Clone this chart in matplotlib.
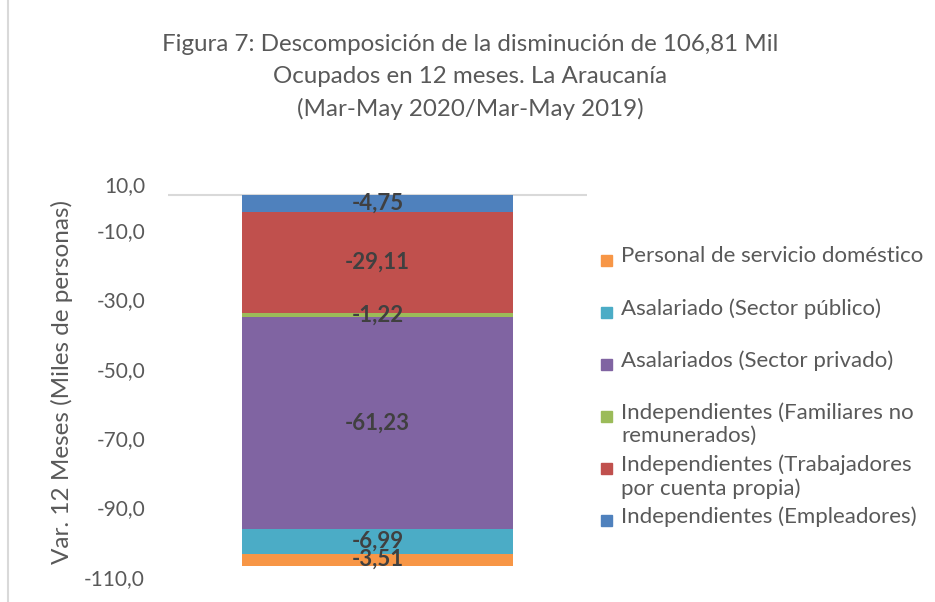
import matplotlib
matplotlib.use("Agg")
import matplotlib.pyplot as plt
import matplotlib.transforms as mtransforms
from matplotlib.patches import Rectangle

# data: stacked from 0 downward (top segment first)
categories = ["Independientes (Empleadores)",
              "Independientes (Trabajadores\npor cuenta propia)",
              "Independientes (Familiares no\nremunerados)",
              "Asalariados (Sector privado)",
              "Asalariado (Sector público)",
              "Personal de servicio doméstico"]
values = [-4.75, -29.11, -1.22, -61.23, -6.99, -3.51]
colors = ["#4F81BD", "#C0504D", "#9BBB59", "#8064A2", "#4BACC6", "#F79646"]
yticks = [10, -10, -30, -50, -70, -90, -110]

plt.rcParams['font.family'] = ['Lato', 'DejaVu Sans']
gray = "#595959"

fig = plt.figure(figsize=(9.35, 6.02), dpi=100)
ax = fig.add_axes([168 / 935, 1 - 576.8 / 602, 419 / 935, 416 / 602])

bottom = 0.0
for lab, v, c in zip(categories, values, colors):
    ax.bar(0, v, bottom=bottom, width=0.647, color=c, zorder=2)
    ax.text(0, bottom + v / 2, f"{v:.2f}".replace(".", ","), ha="center",
            va="center", fontsize=16, fontweight="bold", color="#404040",
            zorder=3)
    bottom += v

ax.set_xlim(-0.5, 0.5)
ax.set_ylim(-110, 10)
ax.set_yticks(yticks)
ax.set_yticklabels([f"{t:.1f}".replace(".", ",") for t in yticks])
ax.set_xticks([])
ax.tick_params(axis="y", length=0, pad=16.5, labelsize=15, labelcolor=gray)
for s in ax.spines.values():
    s.set_visible(False)
ax.axhline(0, color="#D9D9D9", lw=1.5, zorder=1)

# top tick label sits lower in the original
off = mtransforms.ScaledTranslation(0, -0.23, fig.dpi_scale_trans)
lbl = ax.get_yticklabels()[0]
lbl.set_transform(lbl.get_transform() + off)

fig.text(62 / 935, 1 - 382 / 602, "Var. 12 Meses (Miles de personas)",
         rotation=90, ha="center", va="center", fontsize=17.5, color=gray)

fig.text(470 / 935, 1 - 77 / 602,
         "Figura 7: Descomposición de la disminución de 106,81 Mil\n"
         "Ocupados en 12 meses. La Araucanía\n(Mar-May 2020/Mar-May 2019)",
         ha="center", va="center", fontsize=17.4, color=gray, linespacing=1.6)

# legend, reversed order
for i, (lab, c) in enumerate(zip(categories[::-1], colors[::-1])):
    yc = 260 + 52 * i
    fig.patches.append(Rectangle((601 / 935, 1 - (yc + 5.5) / 602), 11 / 935,
                                 11 / 602, transform=fig.transFigure,
                                 color=c))
    fig.text(621 / 935, 1 - (yc - 14) / 602, lab, ha="left", va="top",
             fontsize=16, color=gray, linespacing=1.2)

fig.lines.append(plt.Line2D([8 / 935, 8 / 935], [0, 1],
                            transform=fig.transFigure, color="#D9D9D9", lw=1.5))

fig.savefig("out.png", dpi=100)
